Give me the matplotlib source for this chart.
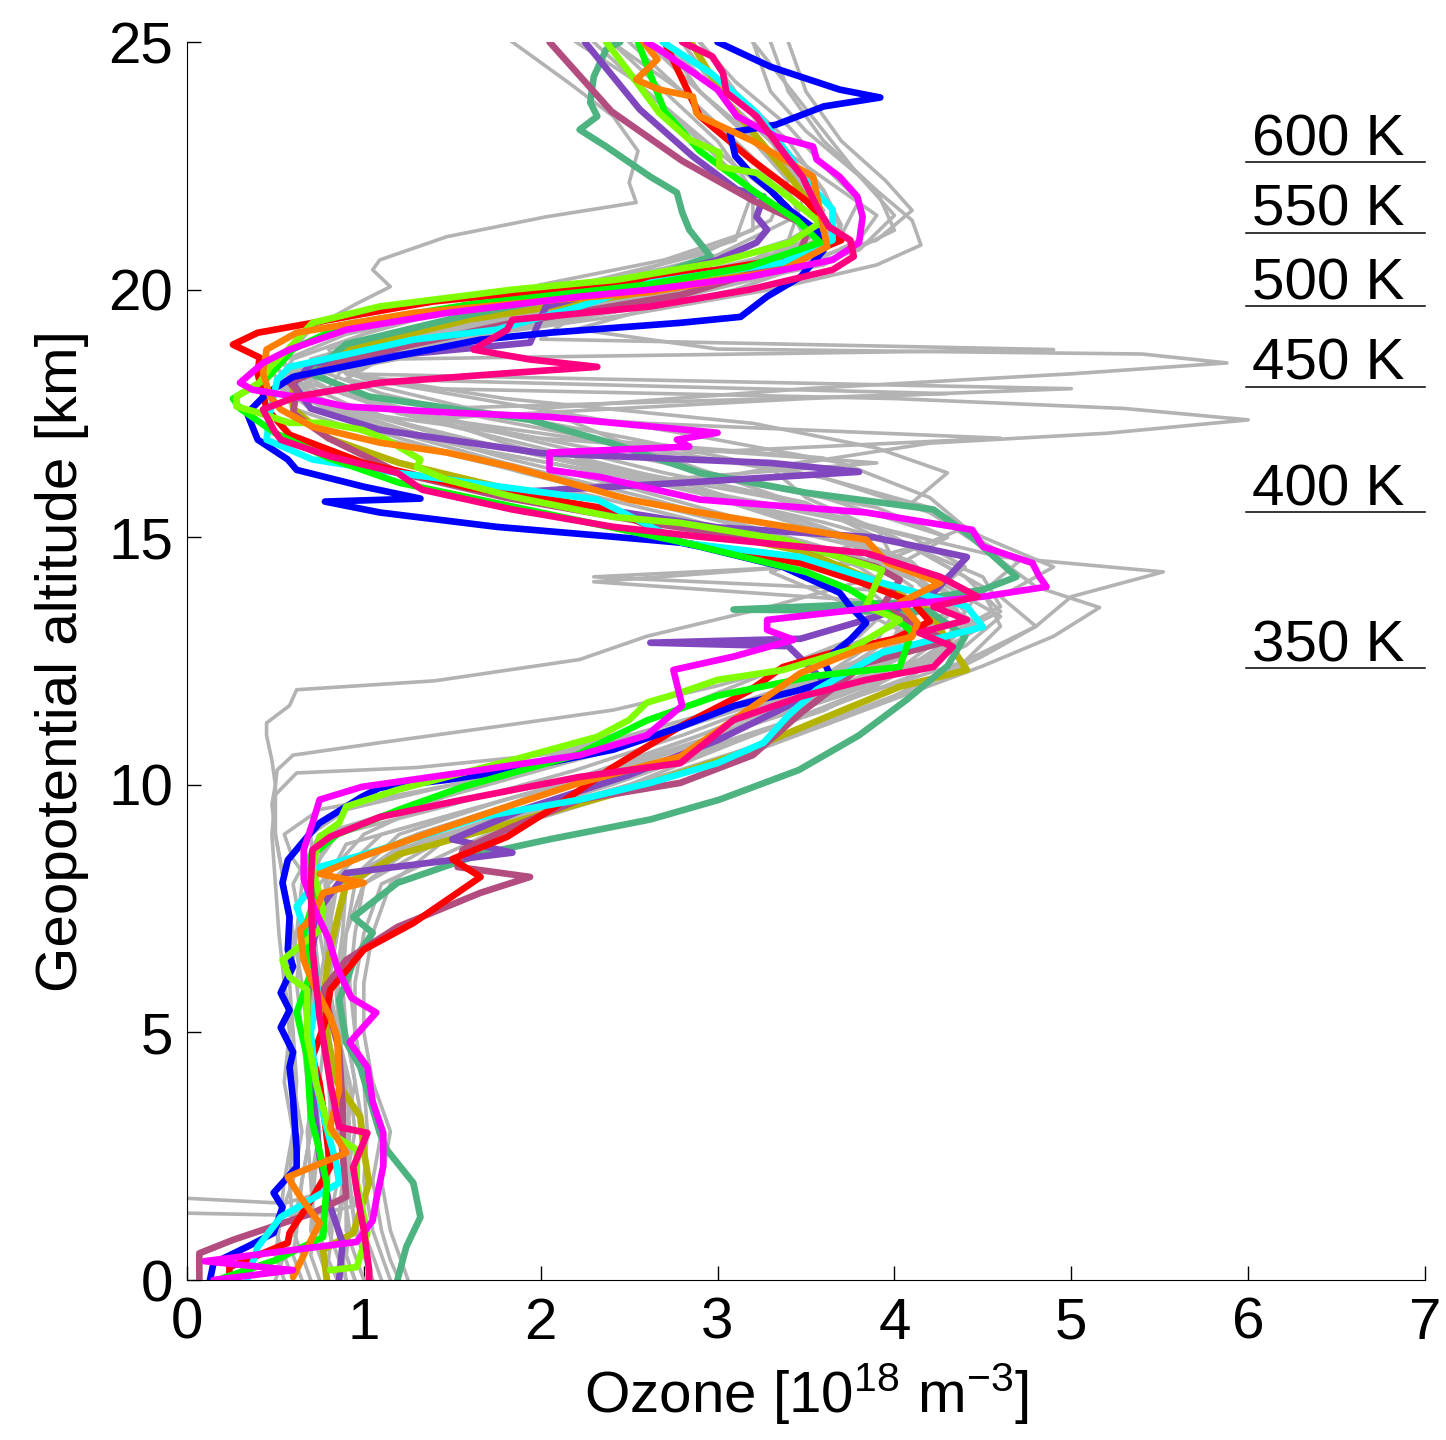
import matplotlib
matplotlib.use("Agg")
import matplotlib.pyplot as plt

plt.rcParams['font.family'] = ['Liberation Sans', 'DejaVu Sans']
plt.rcParams['mathtext.fontset'] = 'custom'
plt.rcParams['mathtext.rm'] = 'Liberation Sans'
plt.rcParams['mathtext.default'] = 'regular'

# ozone [1e18 m^-3], altitude [km] pairs
blue = [(0.13,0.0),(0.15,0.34),(0.34,0.67),(0.49,0.95),(0.54,1.47),(0.49,1.76),(0.62,2.28),(0.62,2.63),(0.60,3.64),(0.58,4.3),
        (0.60,4.6),(0.53,5.1),(0.58,5.45),(0.53,5.8),(0.60,6.33),(0.57,6.67),(0.58,7.33),(0.54,8.02),(0.57,8.48),(0.68,8.95),
        (0.75,9.23),(0.99,9.76),(1.09,9.94),(1.47,10.1),(1.84,10.3),(2.41,10.71),(2.79,11.17),(3.10,11.6),(3.45,11.9),(3.65,12.12),
        (3.60,12.5),(3.75,12.93),(3.84,13.27),(3.75,13.6),(3.69,13.88),(3.37,14.4),(2.90,14.81),(2.79,14.89),(2.41,15.01),(1.75,15.21),
        (1.09,15.5),(0.78,15.72),(1.32,15.78),(1.00,16.02),(0.62,16.36),(0.57,16.57),(0.40,16.97),(0.34,17.5),(0.45,17.9),(0.60,18.24),
        (1.09,18.59),(1.66,18.99),(2.05,19.13),(2.79,19.33),(3.13,19.45),(3.28,19.86),(3.47,20.26),(3.60,20.8),(3.56,21.2),(3.41,21.6),
        (3.30,22.0),(3.20,22.3),(3.10,22.7),(3.07,23.17),(3.33,23.33),(3.60,23.7),(3.92,23.88),(3.69,24.04),(3.30,24.5),(3.00,25.0)]
red = [(0.24,0.0),(0.24,0.26),(0.57,0.75),(0.58,0.95),(0.70,1.6),(0.81,2.28),(0.78,3.2),(0.75,3.98),(0.71,4.5),(0.78,5.2),
       (0.81,5.86),(1.00,6.67),(1.28,7.21),(1.66,8.14),(1.50,8.5),(1.81,8.95),(2.10,9.6),(2.41,10.36),(2.80,11.2),(3.18,11.9),
       (3.37,12.38),(3.65,12.67),(4.00,12.95),(4.20,13.3),(4.10,13.7),(3.80,14.1),(3.47,14.48),(2.80,14.9),(2.41,15.56),(1.60,16.0),
       (1.00,16.5),(0.58,17.07),(0.45,17.6),(0.40,18.3),(0.41,18.63),(0.26,18.89),(0.40,19.13),(0.90,19.45),(1.39,19.76),(2.20,20.05),
       (3.00,20.4),(3.50,20.7),(3.70,21.0),(3.50,21.8),(3.20,22.6),(2.90,23.5),(2.70,25.0)]
lime = [(0.81,0.2),(0.96,0.26),(1.02,0.95),(0.96,1.96),(0.96,2.63),(0.81,2.97),(0.73,3.98),(0.68,4.91),(0.68,5.86),(0.58,6.12),
        (0.54,6.46),(0.75,7.07),(0.77,7.47),(0.71,8.34),(0.75,8.95),(0.86,9.23),(0.90,9.56),(1.19,9.9),(1.47,10.16),(1.84,10.5),
        (2.32,10.97),(2.50,11.31),(2.60,11.66),(2.79,11.86),(3.00,12.12),(3.37,12.32),(3.75,12.73),(4.03,13.33),(3.84,13.6),(3.93,14.34),
        (3.37,14.95),(2.79,15.29),(2.41,15.41),(1.84,15.82),(1.47,16.16),(1.30,16.42),(1.32,16.57),(1.13,16.97),(0.99,17.17),(0.77,17.31),
        (0.58,17.31),(0.40,17.52),(0.28,17.64),(0.28,17.84),(0.41,18.12),(0.47,18.44),(0.57,18.79),(0.71,19.33),(1.09,19.66),(1.84,20.0),
        (2.43,20.2),(3.00,20.55),(3.41,20.95),(3.58,21.35),(3.54,21.47),(3.37,21.96),(3.22,22.36),(3.01,22.48),(3.01,22.77),(2.84,23.03),
        (2.67,23.57),(2.49,24.44),(2.37,25.0)]
green = [(0.17,0.0),(0.50,0.4),(0.77,0.87),(0.79,1.96),(0.75,2.6),(0.70,3.3),(0.68,4.5),(0.62,5.4),(0.70,6.2),(0.66,7.0),
         (0.72,7.7),(0.68,8.5),(0.85,9.0),(1.20,9.5),(1.56,9.96),(2.20,10.6),(2.60,11.3),(3.00,11.8),(3.55,12.2),(4.03,12.38),
         (4.10,13.1),(3.95,13.5),(3.75,13.94),(3.50,14.3),(2.80,14.9),(2.00,15.5),(1.20,16.1),(0.80,16.6),(0.50,17.1),(0.30,17.6),
         (0.26,17.8),(0.45,18.2),(0.60,18.8),(0.90,19.3),(1.60,19.7),(2.60,20.1),(3.17,20.46),(3.58,20.95),(3.45,21.4),(3.20,22.0),
         (2.90,22.8),(2.70,23.6),(2.55,25.0)]
cyan = [(0.34,0.0),(0.40,0.67),(0.53,1.27),(0.86,1.96),(0.85,2.28),(0.78,3.2),(0.73,3.98),(0.70,5.0),(0.74,5.8),(0.71,6.67),
        (0.62,7.54),(0.68,7.82),(0.75,8.34),(1.09,8.69),(1.66,9.35),(2.22,9.7),(2.62,10.04),(3.00,10.44),(3.26,10.85),(3.40,11.4),
        (3.56,11.92),(3.93,12.67),(4.50,13.19),(4.41,13.6),(3.93,14.08),(3.47,14.6),(2.80,14.89),(2.32,15.76),(1.19,16.3),(0.71,16.57),
        (0.45,16.97),(0.47,17.52),(0.51,18.18),(0.58,18.44),(1.28,18.99),(1.75,19.19),(2.22,19.66),(2.62,20.14),(3.37,20.55),(3.65,21.0),
        (3.65,21.62),(3.48,22.28),(3.41,22.69),(3.22,23.57),(3.07,24.04),(2.96,24.38),(2.69,25.0)]
magenta = [(0.15,0.0),(0.60,0.2),(0.10,0.38),(0.96,0.77),(1.05,1.2),(1.07,1.61),(1.11,2.3),(1.11,2.97),(1.05,3.6),(1.02,4.3),
           (0.92,4.8),(1.07,5.4),(0.93,5.7),(0.85,6.3),(0.80,6.9),(0.72,7.5),(0.66,8.1),(0.66,8.69),(0.71,9.23),(0.75,9.7),
           (0.99,9.96),(1.66,10.3),(2.22,10.6),(2.60,11.0),(2.80,11.6),(2.75,12.32),(3.09,12.59),(3.43,12.93),(3.28,13.13),(3.28,13.33),
           (3.94,13.6),(4.50,13.8),(4.86,14.0),(4.82,14.2),(4.78,14.48),(4.50,14.81),(4.44,15.15),(3.84,15.5),(2.90,15.76),(2.33,16.22),
           (2.05,16.36),(2.05,16.71),(2.84,16.83),(2.77,16.97),(3.00,17.11),(2.05,17.43),(1.47,17.52),(0.90,17.64),(0.71,17.78),(0.37,17.98),
           (0.30,18.12),(0.43,18.52),(0.58,18.79),(0.90,19.19),(1.47,19.53),(2.22,19.86),(2.62,20.0),(3.18,20.26),(3.65,20.6),(3.80,20.95),
           (3.82,21.47),(3.79,21.88),(3.69,22.28),(3.56,22.63),(3.54,22.89),(3.33,23.09),(3.11,23.5),(3.00,24.04),(2.84,24.44),(2.67,24.85),
           (2.60,25.0)]
orange = [(0.60,0.06),(0.71,0.87),(0.75,1.15),(0.64,1.68),(0.57,2.08),(0.90,2.57),(0.81,3.09),(0.86,3.84),(0.85,4.91),(0.81,5.31),
          (0.71,6.0),(0.66,6.46),(0.64,7.07),(0.71,7.33),(0.77,7.82),(1.00,8.02),(0.75,8.2),(0.99,8.55),(1.37,9.03),(1.75,9.49),
          (2.22,10.04),(2.79,10.57),(3.09,11.31),(3.28,11.78),(3.47,12.26),(3.80,12.73),(4.10,12.99),(4.13,13.27),(4.03,13.68),(4.26,14.08),
          (3.96,14.48),(3.84,14.95),(2.90,15.5),(2.50,15.76),(1.84,16.42),(1.47,16.71),(1.09,16.91),(0.71,17.23),(0.53,17.58),(0.47,17.84),
          (0.43,18.32),(0.45,18.79),(0.62,19.13),(1.28,19.53),(2.10,19.8),(2.62,19.95),(3.37,20.4),(3.62,20.87),(3.60,21.21),(3.54,22.28),
          (3.20,23.0),(2.90,23.5),(2.88,23.57),(2.86,23.9),(2.67,24.04),(2.54,24.24),(2.66,24.65),(2.58,25.0)]
rose = [(1.03,0.0),(1.03,0.2),(1.00,1.0),(0.96,1.8),(0.94,2.28),(1.02,2.97),(0.86,3.09),(0.81,3.98),(0.75,5.31),(0.71,6.67),
        (0.70,8.02),(0.71,8.69),(0.81,8.95),(1.09,9.35),(1.56,9.7),(2.22,10.16),(2.79,10.44),(3.09,11.31),(3.47,11.78),(3.84,12.12),
        (4.22,12.38),(4.33,12.79),(4.14,13.07),(4.41,13.33),(4.22,13.6),(4.47,13.8),(4.26,14.2),(3.84,14.68),(2.90,15.01),(2.41,15.21),
        (1.84,15.56),(1.33,15.96),(1.19,16.3),(0.81,16.63),(0.53,16.97),(0.49,17.17),(0.43,17.58),(0.62,17.84),(1.09,18.12),(1.84,18.32),
        (2.32,18.44),(1.94,18.59),(1.62,18.79),(1.81,19.19),(1.84,19.39),(2.62,19.66),(3.18,20.0),(3.65,20.4),(3.77,20.67),(3.75,21.0),
        (3.63,21.27),(3.56,21.68),(3.48,22.28),(3.39,22.69),(3.22,23.5),(3.05,23.98),(3.03,24.38),(2.97,24.71),(2.80,25.0)]
purple = [(0.86,0.0),(0.88,0.75),(0.80,1.6),(0.75,2.5),(0.72,3.5),(0.70,4.5),(0.68,5.5),(0.70,6.5),(0.75,7.5),(0.90,8.22),
          (1.84,8.63),(1.50,8.9),(1.90,9.5),(2.50,10.2),(3.00,10.9),(3.40,11.6),(3.60,12.1),(3.40,12.8),(2.62,12.87),(3.47,12.95),
          (3.90,13.4),(4.20,13.8),(4.41,14.6),(3.88,15.0),(3.00,15.2),(2.30,15.6),(1.80,15.9),(2.80,16.1),(3.80,16.32),(3.30,16.5),
          (2.00,16.7),(1.09,17.17),(0.70,17.6),(0.60,18.1),(0.71,18.52),(1.94,18.93),(2.03,19.66),(3.00,20.6),(3.22,20.95),(3.28,21.21),
          (3.22,21.47),(3.26,21.88),(3.11,22.02),(2.86,22.69),(2.56,23.64),(2.25,25.0)]
teal = [(1.19,0.0),(1.24,0.67),(1.32,1.27),(1.28,1.96),(1.13,2.63),(1.09,2.97),(0.98,4.3),(0.90,4.8),(0.86,5.66),(0.95,6.5),
        (1.05,7.01),(0.94,7.33),(1.19,8.02),(1.66,8.6),(2.05,8.9),(2.62,9.3),(3.01,9.7),(3.46,10.3),(3.80,11.0),(4.07,11.72),
        (4.30,12.4),(4.40,13.0),(4.20,13.5),(3.09,13.54),(4.03,13.68),(4.50,13.94),(4.69,14.2),(4.44,15.0),(4.22,15.56),(3.50,15.9),
        (2.90,16.3),(2.40,16.9),(1.94,17.37),(1.03,17.84),(0.70,18.3),(0.90,18.9),(1.60,19.5),(2.50,20.1),(2.96,20.67),(2.84,21.21),
        (2.80,21.56),(2.77,21.96),(2.62,22.28),(2.37,22.89),(2.22,23.23),(2.32,23.5),(2.28,23.78),(2.30,24.3),(2.37,24.85),(2.45,25.0)]
olive = [(0.79,0.0),(0.77,0.61),(0.94,0.95),(1.03,1.96),(1.00,2.6),(0.98,3.3),(0.85,3.98),(0.80,4.8),(0.77,5.66),(0.80,6.5),
         (0.85,7.3),(0.90,8.0),(1.20,8.6),(1.80,9.2),(2.50,9.9),(3.10,10.6),(3.71,11.51),(4.03,11.98),(4.41,12.32),(4.30,12.9),
         (4.20,13.5),(3.90,14.1),(3.50,14.7),(2.70,15.3),(1.90,15.9),(1.20,16.5),(0.80,17.0),(0.60,17.6),(0.60,18.2),(0.90,18.8),
         (1.60,19.4),(2.50,19.9),(3.20,20.4),(3.60,21.0),(3.55,21.6),(3.41,22.28),(3.22,23.09),(3.05,23.8),(2.85,25.0)]
maroon = [(0.07,0.0),(0.07,0.54),(0.26,0.81),(0.71,1.35),(0.90,1.68),(0.88,2.6),(0.88,3.5),(0.86,4.65),(0.77,5.86),(0.90,6.46),
          (1.19,7.13),(1.66,7.82),(1.94,8.14),(1.53,8.34),(1.56,8.69),(1.84,9.15),(2.22,9.7),(2.79,10.04),(3.20,10.6),(3.47,11.45),
          (3.84,12.46),(4.30,12.9),(3.93,13.6),(4.03,14.14),(3.90,14.4),(3.50,14.8),(2.60,15.3),(1.80,15.8),(1.20,16.3),(0.80,17.0),
          (0.60,17.5),(0.62,17.98),(0.58,18.12),(0.90,18.6),(1.80,19.3),(2.80,19.9),(3.45,20.6),(3.52,21.27),(3.20,21.8),(2.80,22.6),
          (2.40,23.6),(2.05,25.0)]

# grey soundings
g01 = [(0.95,0),(0.9,0.5),(0.85,1),(0.88,2),(0.92,3),(0.85,4),(0.8,5),(0.82,6),(0.78,7),(0.85,8),(1.4,9),(2.1,10),(2.9,11),(3.6,12),
       (4.3,13),(4.5,14),(4.0,15),(3.2,16),(2.4,17),(2.0,17.6),(3.5,18.0),(5.0,18.3),(5.88,18.52),(5.4,18.7),(3.0,18.8),(2.2,19.2),
       (2.6,19.6),(3.1,20),(3.5,20.5),(3.8,21),(3.9,21.5),(3.7,22),(3.3,23),(3.0,24),(2.8,25)]
g02 = [(1.05,0),(1.0,0.6),(0.95,1.2),(0.9,2),(0.95,3),(0.92,4),(0.85,5),(0.8,6),(0.85,7),(0.9,8),(1.2,8.6),(1.9,9.3),(2.5,10),
       (3.2,11),(3.9,12),(4.2,12.8),(4.6,13.5),(4.4,14.2),(4.0,15),(3.5,15.8),(3.3,16.4),(4.2,16.9),(5.2,17.1),(6.0,17.37),(5.3,17.6),
       (4.0,17.8),(1.4,18.0),(0.8,18.4),(1.3,19),(2.0,19.5),(2.8,20),(3.4,20.6),(3.7,21.2),(3.6,22),(3.3,23),(3.1,24),(2.9,25)]
g03 = [(1.1,0),(1.05,0.5),(1.0,1),(0.95,2),(1.0,3),(0.95,4),(0.9,5),(0.85,6),(0.9,7),(1.0,8),(1.5,9),(2.4,10),(3.2,11),(3.8,11.8),
       (4.4,12.5),(4.8,13.2),(5.0,13.8),(5.52,14.3),(4.6,14.6),(3.9,15.2),(2.8,16),(1.6,16.8),(0.9,17.5),(0.6,18),(0.9,18.5),(1.6,19),
       (2.4,19.6),(3.1,20.2),(3.6,21),(3.5,22),(3.2,23),(2.9,24),(2.6,25)]
g04 = [(1.2,0),(1.15,0.4),(1.1,1),(1.05,2),(1.1,3),(1.0,4),(0.95,5),(0.95,6),(1.0,7),(1.1,8),(1.7,9),(2.6,10),(3.3,10.8),(3.9,11.6),
       (4.5,12.4),(4.9,13.0),(5.16,13.58),(4.8,14.0),(4.5,14.8),(4.2,15.5),(3.6,16.2),(2.5,17),(1.6,17.6),(0.9,18.2),(1.2,18.8),(2.1,19.4),
       (2.9,20),(3.6,20.5),(4.0,21.2),(3.9,22),(3.6,23),(3.4,24),(3.3,25)]
g05 = [(0.9,0),(0.85,0.5),(0.8,1),(0.85,2),(0.8,3),(0.75,4),(0.78,5),(0.8,6),(0.85,7),(0.9,8),(1.3,9),(2.0,9.8),(2.8,10.6),(3.5,11.4),
       (4.1,12.2),(4.4,13),(4.3,13.8),(4.1,14.5),(3.6,15.2),(2.9,16),(2.0,16.8),(1.2,17.5),(0.8,18),(0.9,18.5),(1.5,19),(2.5,19.5),
       (3.3,20),(3.9,20.5),(4.15,20.9),(4.1,21.4),(3.9,22),(3.7,22.6),(3.5,23.2),(3.3,24),(3.2,25)]
g06 = [(0.8,0),(0.75,0.5),(0.7,1),(0.72,2),(0.75,3),(0.7,4),(0.68,5),(0.72,6),(0.7,7),(0.75,8),(1.0,9),(1.6,10),(2.4,11),(3.1,12),
       (3.8,13),(4.1,14),(3.7,15),(2.8,16),(1.8,16.8),(1.0,17.5),(0.6,18),(0.55,18.6),(0.7,19.2),(0.95,19.7),(1.15,20.06),(1.05,20.4),
       (1.09,20.6),(1.47,21.07),(2.03,21.47),(2.54,21.76),(2.5,22.16),(2.55,22.8),(2.41,23.5),(2.15,24.2),(1.84,25)]
g07 = [(0.6,0),(0.55,0.5),(0.5,1),(0.55,1.5),(0.6,2),(0.65,3),(0.6,4),(0.6,5),(0.55,6),(0.6,7),(0.55,8),(0.5,9),(0.5,10),(0.48,10.5),
       (0.45,11),(0.45,11.25),(0.58,11.6),(0.62,11.92),(1.4,12.1),(2.22,12.53),(2.6,13),(3.3,13.6),(3.9,14.2),(4.3,15),(3.6,15.8),
       (2.7,16.5),(1.7,17.2),(1.0,17.8),(0.7,18.4),(1.1,19),(1.9,19.6),(2.7,20.2),(3.4,21),(3.5,22),(3.2,23),(3.0,24),(2.8,25)]
g08 = [(0.7,0),(0.65,0.5),(0.6,1),(0.65,2),(0.7,3),(0.72,4),(0.68,5),(0.65,6),(0.6,7),(0.55,8),(0.5,9),(0.48,9.6),(0.5,10.0),
       (0.51,10.3),(0.6,10.6),(1.09,10.85),(1.8,11.2),(2.41,11.51),(3.0,12),(3.6,12.6),(4.0,13.2),(4.2,13.8),(4.4,14.4),(4.1,15),
       (3.4,15.6),(2.5,16.2),(1.6,16.8),(0.9,17.4),(0.55,18),(0.8,18.6),(1.6,19.2),(2.5,19.8),(3.2,20.4),(3.6,21),(3.5,22),(3.2,23),
       (2.9,24),(2.7,25)]
g09 = [(0.0,1.65),(0.55,1.55),(0.75,1.75),(0.7,2),(0.75,3),(0.72,4),(0.7,5),(0.75,6),(0.72,7),(0.7,8),(0.6,8.5),(0.55,9),(0.75,9.5),
       (1.5,10),(2.2,10.6),(2.8,11.2),(3.5,12),(4.0,12.8),(4.3,13.4),(4.2,14),(3.8,14.6),(3.2,15.2),(2.5,15.8),(1.8,16.4),(1.1,17),
       (0.6,17.6),(0.5,18.2),(0.9,18.8),(1.7,19.4),(2.6,20),(3.2,20.6),(3.5,21.2),(3.4,22),(3.1,23),(2.8,24),(2.4,25)]
g10 = [(0.0,1.35),(0.7,1.3),(0.95,1.5),(0.9,2),(0.88,3),(0.9,4),(0.85,5),(0.8,6),(0.82,7),(0.78,8),(0.9,8.8),(1.5,9.4),(2.2,10.1),
       (2.9,10.9),(3.5,11.7),(4.0,12.5),(4.3,13.2),(4.1,13.9),(2.3,14.2),(4.0,14.5),(3.9,15.2),(3.3,15.8),(2.4,16.4),(1.5,17),(0.8,17.7),
       (0.55,18.3),(1.0,18.9),(1.8,19.5),(2.6,20.1),(3.3,20.7),(3.6,21.4),(3.5,22.2),(3.2,23.1),(2.9,24),(2.6,25)]
g11 = [(1.0,0),(0.95,0.5),(0.9,1),(0.9,2),(0.85,3),(0.88,4),(0.85,5),(0.8,6),(0.78,7),(0.8,8),(1.1,9),(1.6,9.5),(2.1,10),(2.9,11),
       (3.7,12),(4.2,12.6),(4.5,13.2),(4.3,13.6),(2.3,14.1),(3.8,14.5),(4.3,15),(3.9,15.6),(3.0,16.2),(3.6,16.6),(2.2,17),(1.2,17.5),
       (0.8,18),(0.6,18.4),(0.9,18.8),(1.5,19.2),(2.4,19.8),(3.1,20.4),(3.5,21),(3.6,21.6),(3.4,22.4),(3.2,23.2),(3.0,24),(2.7,25)]
g12 = [(0.85,0),(0.8,0.4),(0.82,1),(0.78,2),(0.8,3),(0.82,4),(0.78,5),(0.75,6),(0.8,7),(0.85,8),(1.2,8.7),(1.8,9.4),(2.4,10.1),
       (3.0,10.8),(3.6,11.5),(4.0,12.2),(4.3,12.9),(4.4,13.5),(4.2,14.2),(3.8,14.8),(3.1,15.4),(2.5,16),(1.8,16.6),(1.2,17.2),(0.7,17.8),
       (0.6,18.2),(1.2,18.6),(4.9,18.79),(2.0,19.0),(2.2,19.5),(2.9,20),(3.4,20.6),(3.7,21.2),(3.6,22),(3.4,23),(3.1,24),(2.9,25)]
g13 = [(0.75,0),(0.7,0.5),(0.72,1),(0.7,2),(0.68,3),(0.72,4),(0.7,5),(0.75,6),(0.72,7),(0.7,8),(0.8,9),(1.4,9.7),(2.0,10.4),(2.6,11),
       (3.2,11.7),(3.9,12.4),(4.3,13),(4.6,13.6),(4.5,14.2),(4.1,14.8),(3.6,15.3),(3.0,15.8),(2.4,16.3),(1.8,16.9),(1.4,17.4),(3.5,17.8),
       (5.0,18.0),(0.9,18.3),(1.3,18.9),(2.1,19.5),(2.8,20.1),(3.4,20.7),(3.7,21.3),(3.6,22),(3.3,23),(3.0,24),(2.7,25)]
g14 = [(1.15,0),(1.1,0.5),(1.05,1),(1.0,2),(1.02,3),(1.0,4),(0.95,5),(0.92,6),(0.95,7),(1.0,8),(1.3,8.8),(2.0,9.5),(2.7,10.2),
       (3.4,11),(4.0,11.8),(4.4,12.5),(4.6,13.2),(4.5,13.9),(4.7,14.5),(4.4,15.1),(4.1,15.7),(4.3,16.3),(3.9,16.8),(3.2,17.3),(1.8,17.8),
       (0.9,18.3),(0.8,18.8),(1.4,19.3),(2.3,19.9),(3.1,20.5),(3.7,21.1),(3.8,21.8),(3.6,22.5),(3.4,23.3),(3.1,24.2),(2.9,25)]
g15 = [(0.65,0),(0.6,0.5),(0.62,1),(0.65,2),(0.7,3),(0.68,4),(0.65,5),(0.62,6),(0.65,7),(0.6,8),(0.75,9),(1.3,9.6),(1.9,10.2),
       (2.5,10.8),(3.1,11.5),(3.6,12.2),(3.9,12.9),(4.0,13.5),(3.8,14.1),(3.4,14.8),(2.8,15.4),(2.1,16),(3.9,16.5),(2.0,17),(1.0,17.5),
       (0.55,18),(0.45,18.5),(0.7,19),(1.3,19.5),(2.2,20),(3.0,20.7),(3.4,21.4),(3.3,22.2),(3.1,23),(2.8,24),(2.5,25)]
g16 = [(1.25,0),(1.2,0.5),(1.15,1),(1.1,2),(1.15,3),(1.05,4),(1.0,5),(1.0,6),(1.05,7),(1.15,8),(1.5,9),(2.3,9.8),(3.0,10.5),
       (3.6,11.2),(4.1,11.9),(4.5,12.6),(4.8,13.2),(4.6,13.8),(4.9,14.4),(4.5,15),(4.2,15.6),(3.6,16.2),(2.6,16.8),(1.7,17.4),(1.1,17.9),
       (0.8,18.3),(1.0,18.7),(1.7,19.1),(2.5,19.6),(3.2,20.2),(3.8,20.8),(4.0,21.5),(3.8,22.3),(3.6,23.2),(3.4,24.1),(3.2,25)]
g17 = [(0.95,0),(0.9,0.5),(0.92,1),(0.88,2),(0.9,3),(0.85,4),(0.88,5),(0.85,6),(0.82,7),(0.8,8),(0.95,8.5),(1.3,9),(2.0,9.8),
       (2.7,10.6),(3.3,11.4),(3.9,12.2),(4.1,13),(3.7,13.7),(3.3,14.3),(3.9,15),(3.5,15.7),(2.7,16.3),(1.9,17),(1.2,17.6),(0.7,18.1),
       (0.5,18.6),(0.8,19.1),(1.4,19.6),(2.2,20.1),(2.9,20.7),(3.3,21.4),(3.4,22.2),(3.2,23),(2.9,24),(2.6,25)]
g18 = [(0.55,0),(0.5,0.5),(0.52,1),(0.55,2),(0.6,3),(0.62,4),(0.6,5),(0.58,6),(0.62,7),(0.65,8),(0.85,9),(1.5,9.6),(2.2,10.3),
       (2.8,11),(3.4,11.8),(3.9,12.6),(4.1,13.3),(4.2,14),(4.0,14.6),(3.5,15.2),(2.9,15.9),(2.2,16.5),(1.4,17.1),(0.9,17.7),(0.6,18.2),
       (1.0,18.7),(1.8,19.2),(2.6,19.8),(3.2,20.4),(3.5,21),(3.4,21.7),(3.1,22.5),(2.8,23.4),(2.5,24.3),(2.2,25)]
g19 = [(1.05,0),(1.0,0.5),(0.95,1),(0.92,2),(0.9,3),(0.95,4),(0.9,5),(0.88,6),(0.9,7),(0.95,8),(1.3,9),(2.2,10),(3.0,11),(3.8,12),
       (4.4,12.8),(4.6,13.4),(4.3,14),(4.0,14.6),(4.4,15.2),(4.2,15.8),(3.7,16.5),(2.8,17.1),(1.8,17.7),(1.0,18.2),(0.8,18.7),(1.4,19.2),
       (2.4,19.8),(3.3,20.4),(3.9,21),(4.1,21.6),(3.95,22.2),(3.7,23),(3.5,24),(3.4,25)]
g20 = [(0.8,0),(0.78,0.5),(0.75,1),(0.8,2),(0.82,3),(0.8,4),(0.78,5),(0.8,6),(0.75,7),(0.72,8),(0.7,9),(0.9,9.5),(1.5,10),(2.2,10.7),
       (2.9,11.4),(3.5,12.1),(4.0,12.8),(4.3,13.5),(4.1,14.2),(3.5,14.9),(2.7,15.6),(1.9,16.3),(1.2,17),(0.7,17.6),(0.5,18.1),(0.6,18.6),
       (1.0,19.1),(1.5,19.6),(2.0,20.1),(2.7,20.6),(3.2,21.2),(3.2,22),(2.9,23),(2.6,24),(2.3,25)]
g21 = [(0.9,0),(0.88,0.5),(0.85,1),(0.9,2),(0.92,3),(0.9,4),(0.86,5),(0.84,6),(0.88,7),(0.9,8),(1.2,9),(1.8,9.7),(2.5,10.4),
       (3.1,11.1),(3.7,11.8),(4.2,12.5),(4.4,13.2),(4.3,13.9),(4.0,14.6),(3.5,15.3),(2.8,16),(2.2,16.6),(4.6,17.0),(2.6,17.3),(1.4,17.6),
       (4.3,17.9),(1.0,18.2),(0.7,18.6),(1.1,19),(1.9,19.5),(2.7,20),(3.3,20.6),(3.6,21.2),(3.5,22),(3.3,23),(3.0,24),(2.8,25)]
g22 = [(0.5,0),(0.55,0.5),(0.6,1),(0.58,2),(0.6,3),(0.55,4),(0.58,5),(0.55,6),(0.52,7),(0.5,8),(0.48,9),(0.5,9.8),(0.62,10.24),
       (1.3,10.35),(2.0,10.6),(2.6,11.0),(3.2,11.6),(3.7,12.3),(4.0,13.0),(4.1,13.7),(3.8,14.4),(3.3,15.1),(2.6,15.8),(1.8,16.5),
       (1.1,17.2),(0.6,17.9),(0.5,18.5),(0.9,19.1),(1.7,19.7),(2.5,20.3),(3.1,21),(3.2,22),(3.0,23),(2.7,24),(2.4,25)]

greys = [g01, g02, g03, g04, g05, g06, g07, g08, g09, g10, g11, g12, g13, g14, g15, g16, g17, g18, g19, g20, g21, g22]
coloured = [(olive, '#b3b300'), (teal, '#4db380'), (purple, '#8047bf'), (maroon, '#b34d80'), (red, '#ff0000'),
            (blue, '#0000ff'), (cyan, '#00ffff'), (green, '#00ff00'), (lime, '#80ff00'), (orange, '#ff8000'),
            (magenta, '#ff00ff'), (rose, '#ff0080')]

theta_labels = ['600 K', '550 K', '500 K', '450 K', '400 K', '350 K']
theta_alt = [22.57, 21.15, 19.66, 18.04, 15.5, 12.36]

fig = plt.figure(figsize=(14.46, 14.40), dpi=100)
ax = fig.add_axes([0.1293, 0.1111, 0.8562, 0.8597])

for prof in greys:
    ax.plot([p[0] for p in prof], [p[1] for p in prof], color='#b3b3b3', lw=2.6, solid_joinstyle='round')
for prof, col in coloured:
    ax.plot([p[0] for p in prof], [p[1] for p in prof], color=col, lw=4.8,
            solid_joinstyle='round', solid_capstyle='round')

for lab, alt in zip(theta_labels, theta_alt):
    ax.plot([5.99, 7.0], [alt, alt], color='black', lw=1.1, clip_on=False)
    ax.text(6.02, alt + 0.14, lab, fontsize=42, ha='left', va='baseline')

ax.set_xlim(0, 7)
ax.set_ylim(0, 25)
ax.set_xticks(range(0, 8))
ax.set_yticks(range(0, 26, 5))
ax.spines['top'].set_visible(False)
ax.spines['right'].set_visible(False)
ax.tick_params(direction='in', length=10, width=1, labelsize=42)
ax.tick_params(axis='x', pad=12)
ax.tick_params(axis='y', pad=10)
ax.set_xlabel(r'Ozone [10$^{18}$ m$^{-3}$]', fontsize=42, labelpad=8)
ax.set_ylabel('Geopotential altitude [km]', fontsize=42, labelpad=14)

fig.savefig('out.png', dpi=100)
